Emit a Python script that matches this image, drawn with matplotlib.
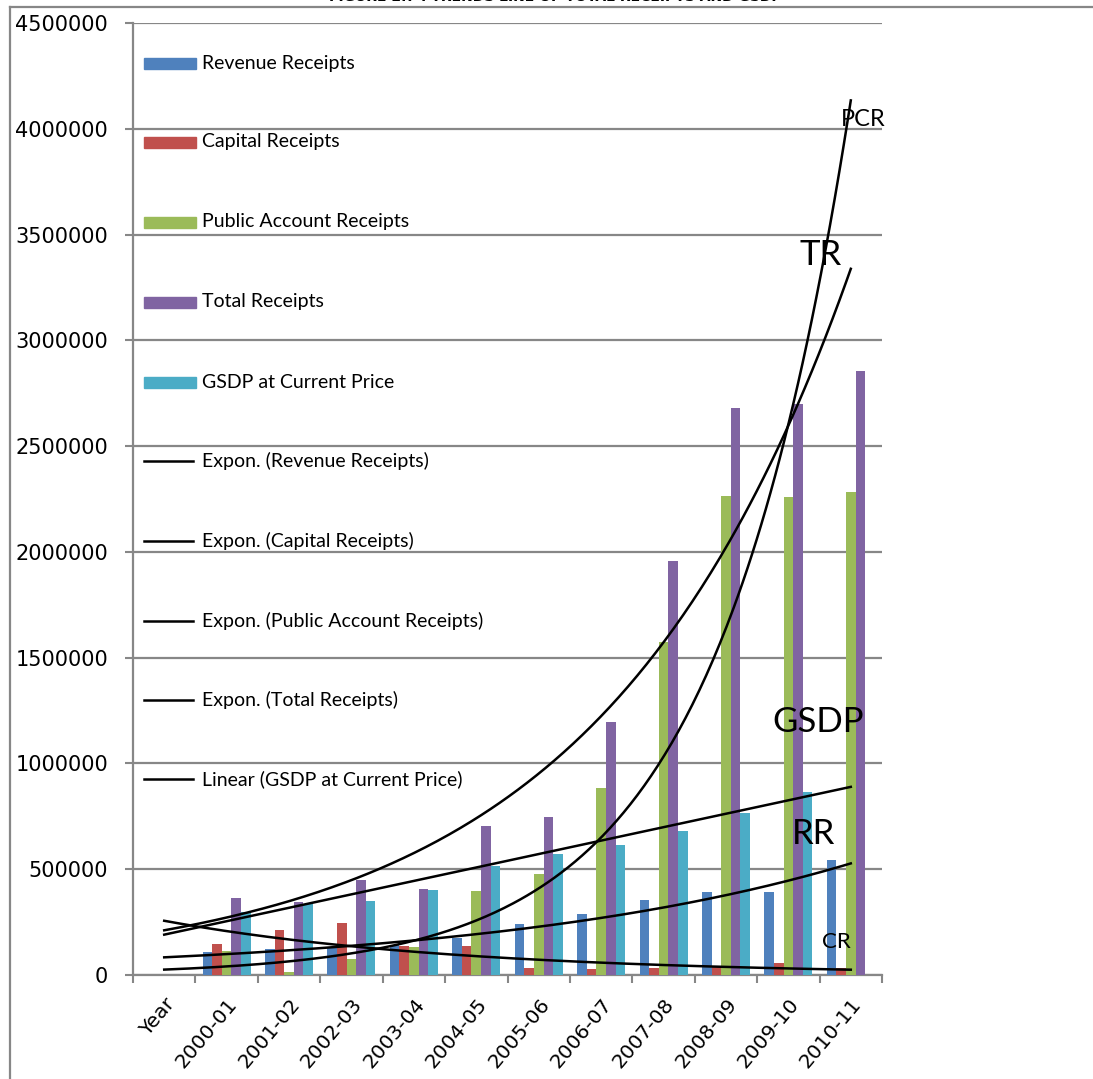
import numpy as np
import matplotlib
matplotlib.use("Agg")
import matplotlib.pyplot as plt
from matplotlib.patches import Rectangle
from matplotlib.lines import Line2D
from matplotlib.transforms import ScaledTranslation

# ---- data -------------------------------------------------------------
categories = ["Year", "2000-01", "2001-02", "2002-03", "2003-04", "2004-05",
              "2005-06", "2006-07", "2007-08", "2008-09", "2009-10", "2010-11"]

revenue_receipts = [np.nan, 107000, 121000, 131000, 142000, 176000, 243000,
                    287000, 355000, 391000, 391000, 545000]
capital_receipts = [np.nan, 147000, 213000, 244000, 137000, 137000, 33000,
                    28000, 31000, 39000, 55000, 31000]
public_account_receipts = [np.nan, 113000, 16000, 74000, 131000, 397000, 478000,
                           886000, 1574000, 2263000, 2259000, 2285000]
total_receipts = [np.nan, 362000, 344000, 449000, 407000, 706000, 749000,
                  1198000, 1957000, 2681000, 2698000, 2857000]
gsdp_current_price = [np.nan, 299000, 334000, 350000, 400000, 515000, 574000,
                      616000, 681000, 767000, 864000, np.nan]

series_names = ["Revenue Receipts", "Capital Receipts", "Public Account Receipts",
                "Total Receipts", "GSDP at Current Price"]
series_values = [revenue_receipts, capital_receipts, public_account_receipts,
                 total_receipts, gsdp_current_price]
series_colors = ["#4F81BD", "#C0504D", "#9BBB59", "#8064A2", "#4BACC6"]
trend_kinds = ["exp", "exp", "exp", "exp", "linear"]
trend_labels = ["Expon. (Revenue Receipts)", "Expon. (Capital Receipts)",
                "Expon. (Public Account Receipts)", "Expon. (Total Receipts)",
                "Linear (GSDP at Current Price)"]

y_ticks = [0, 500000, 1000000, 1500000, 2000000, 2500000, 3000000,
           3500000, 4000000, 4500000]

curve_tags = ["PCR", "TR", "GSDP", "RR", "CR"]
curve_tag_x = [11.2, 10.51, 10.48, 10.40, 10.77]
curve_tag_y = [4043000, 3404000, 1196000, 667000, 156000]
curve_tag_size = [17, 25, 25, 25, 16]

# ---- figure -----------------------------------------------------------
W, H = 1093, 1079
fig = plt.figure(figsize=(W / 100, H / 100), dpi=100)
fig.patch.set_facecolor("white")

ax_l, ax_r, ax_t, ax_b = 133, 882, 23, 975
ax = fig.add_axes([ax_l / W, 1 - ax_b / H, (ax_r - ax_l) / W, (ax_b - ax_t) / H])

grid_gray = "#878787"
x = np.arange(len(categories))
n = len(series_names)
bar_w = 1.0 / (n + 1.5)

for i, (vals, col) in enumerate(zip(series_values, series_colors)):
    v = np.array(vals, dtype=float)
    ax.bar(x + (i - (n - 1) / 2) * bar_w, np.nan_to_num(v), width=bar_w,
           color=col, edgecolor="none", zorder=3)

# trend lines fitted over the available points, drawn across all categories
xx = np.linspace(x[0], x[-1], 300)
for vals, kind in zip(series_values, trend_kinds):
    v = np.array(vals, dtype=float)
    m = ~np.isnan(v)
    if kind == "exp":
        b, a = np.polyfit(x[m], np.log(v[m]), 1)
        yy = np.exp(a + b * xx)
    else:
        b, a = np.polyfit(x[m], v[m], 1)
        yy = a + b * xx
    ax.plot(xx, yy, color="black", lw=1.8, zorder=4, clip_on=False)

ax.set_xlim(-0.5, len(categories) - 0.5)
ax.set_ylim(0, 4500000)
ax.set_yticks(y_ticks)
ax.set_yticklabels([str(t) for t in y_ticks], fontsize=15, family="DejaVu Sans")
ax.yaxis.grid(True, color=grid_gray, lw=1.6, zorder=0)
ax.set_axisbelow(True)

ax.set_xticks(x)
ax.set_xticklabels(categories, rotation=50, ha="right", va="top",
                   rotation_mode="anchor", fontsize=14.5, family="DejaVu Sans")
shift = ScaledTranslation(5 / 100, -7 / 100, fig.dpi_scale_trans)
for lab in ax.get_xticklabels():
    lab.set_transform(lab.get_transform() + shift)
ax.set_xticks(np.arange(-0.5, len(categories)), minor=True)
ax.tick_params(axis="x", which="major", length=0, pad=14)
ax.tick_params(axis="x", which="minor", length=6, width=1.5, color=grid_gray)
ax.tick_params(axis="y", length=6, width=1.5, color=grid_gray, pad=12)

for s in ["top", "right"]:
    ax.spines[s].set_visible(False)
for s in ["left", "bottom"]:
    ax.spines[s].set_color(grid_gray)
    ax.spines[s].set_linewidth(1.6)

# legend entries stacked down the left side of the plot
def ax_frac_x(px):
    return (px - ax_l) / (ax_r - ax_l)

def ax_frac_y(py):
    return (ax_b - py) / (ax_b - ax_t)

entry_y = [63, 142, 222, 302, 382, 461, 541, 621, 700, 779]
labels = series_names + trend_labels
for k, (lab, py) in enumerate(zip(labels, entry_y)):
    yc = ax_frac_y(py)
    if k < n:
        ax.add_patch(Rectangle((ax_frac_x(144), ax_frac_y(py + 5.5)),
                               ax_frac_x(196) - ax_frac_x(144),
                               11 / (ax_b - ax_t), transform=ax.transAxes,
                               color=series_colors[k], zorder=5))
    else:
        ax.add_line(Line2D([ax_frac_x(144), ax_frac_x(193)], [yc, yc],
                           transform=ax.transAxes, color="black", lw=1.8, zorder=5))
    ax.text(ax_frac_x(202), yc, lab, transform=ax.transAxes, fontsize=14,
            family="Lato", va="center", ha="left", zorder=5)

for tag, tx, ty, fs in zip(curve_tags, curve_tag_x, curve_tag_y, curve_tag_size):
    ax.text(tx, ty, tag, fontsize=fs, family="Lato", ha="center", va="center",
            zorder=6)

# outer chart frame and the heading above it
fig.add_artist(Line2D([10 / W, 1.0], [1 - 7 / H, 1 - 7 / H], transform=fig.transFigure,
                      color=grid_gray, lw=1.6))
fig.add_artist(Line2D([10 / W, 10 / W], [0, 1 - 7 / H], transform=fig.transFigure,
                      color=grid_gray, lw=1.6))
fig.text(555 / W, 1 + 3 / H, "FIGURE 2.7 : TRENDS LINE OF TOTAL RECEIPTS AND GSDP",
         fontsize=10, fontweight="bold", ha="center", va="center")

fig.savefig("out.png", dpi=100)
